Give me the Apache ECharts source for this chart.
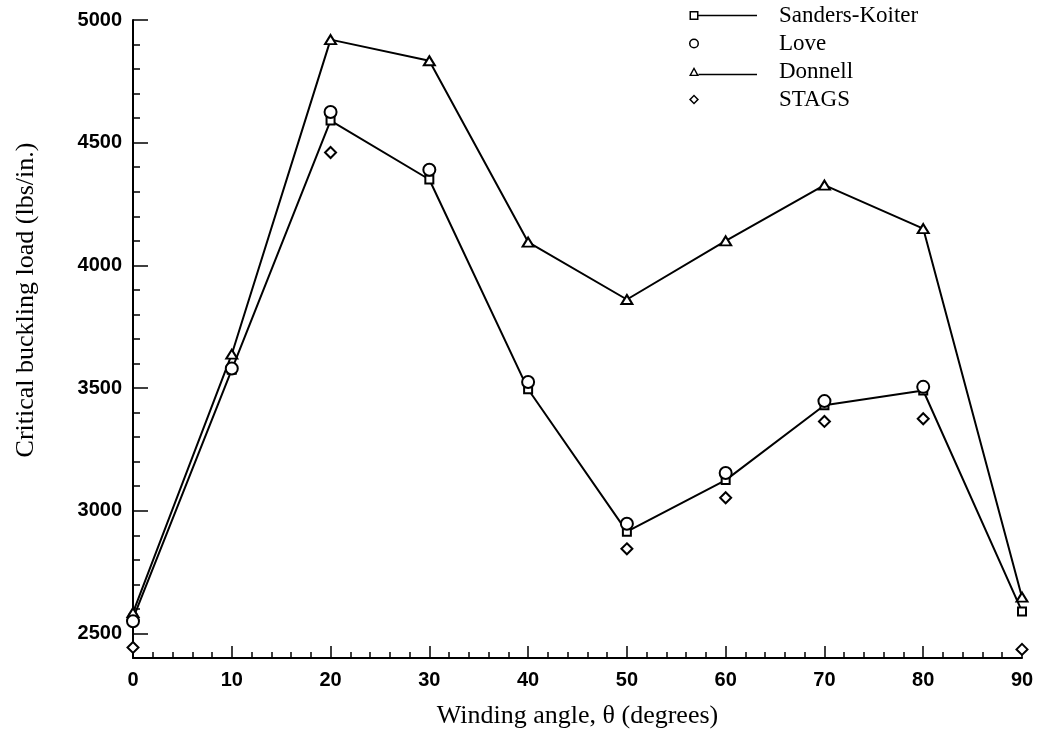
<!DOCTYPE html>
<html>
<head>
<meta charset="utf-8">
<script src="https://cdn.jsdelivr.net/npm/echarts@6/dist/echarts.min.js"></script>
<style>
  html, body { margin: 0; padding: 0; background: #fff; }
  #chart { width: 1039px; height: 748px; }
</style>
</head>
<body>
<div id="chart"></div>
<script>
// ---- data ----
const angles = [0, 10, 20, 30, 40, 50, 60, 70, 80, 90];
const sandersKoiter = [2560, 3575, 4590, 4350, 3495, 2915, 3125, 3430, 3490, 2590];
const love = [2550, 3580, 4625, 4390, 3525, 2947, 3154, 3447, 3505, null];
const donnell = [2585, 3638, 4920, 4834, 4095, 3861, 4100, 4327, 4150, 2648];
const stags = [2443, null, 4460, null, null, 2845, 3053, 3364, 3375, 2435];
const yMajorTicks = [5000, 4500, 4000, 3500, 3000, 2500];
const yMin = 2400, yMax = 5000;
const seriesNames = ['Sanders-Koiter', 'Love', 'Donnell', 'STAGS'];

function pairs(xs, ys) {
  const out = [];
  xs.forEach((x, i) => { if (ys[i] !== null) out.push([x, ys[i]]); });
  return out;
}

// legend icons (path box 85 x 14, symbol at left, optional line)
const box = 'M0 0 L0.01 0 L0 0.01 Z M85 14 L84.99 14 L85 13.99 Z ';
const squareRing = 'M0.5 2.5 L9.5 2.5 L9.5 11.5 L0.5 11.5 Z M2 4 L2 10 L8 10 L8 4 Z ';
const circleRing = 'M0 7 A5 5 0 1 1 10 7 A5 5 0 1 1 0 7 Z M1.5 7 A3.5 3.5 0 1 0 8.5 7 A3.5 3.5 0 1 0 1.5 7 Z ';
const triRing = 'M0 11.5 L5 2.5 L10 11.5 Z M2.4 10.2 L7.6 10.2 L5 5.3 Z ';
const diaRing = 'M5 2 L10 7 L5 12 L0 7 Z M5 4.1 L2.1 7 L5 9.9 L7.9 7 Z ';
const lineSq = 'M9.5 6.3 L68 6.3 L68 7.7 L9.5 7.7 Z ';
const lineTri = 'M9.5 9.3 L68 9.3 L68 10.7 L9.5 10.7 Z ';
const legendIcons = [
  'path://' + box + squareRing + lineSq,
  'path://' + box + circleRing,
  'path://' + box + triRing + lineTri,
  'path://' + box + diaRing
];

const chart = echarts.init(document.getElementById('chart'), null, { renderer: 'canvas' });
const sans = 'Liberation Sans';
const serif = 'Liberation Serif';

chart.setOption({
  animation: false,
  backgroundColor: '#fff',
  grid: { left: 133, right: 17, top: 20, bottom: 90, containLabel: false },
  legend: {
    orient: 'vertical',
    left: 689,
    top: 4,
    padding: 0,
    itemWidth: 85,
    itemHeight: 14,
    itemGap: 5,
    textStyle: { fontFamily: serif, fontSize: 23, color: '#000' },
    data: seriesNames.map((n, i) => ({
      name: n,
      icon: legendIcons[i],
      itemStyle: { color: '#000', borderWidth: 0, borderColor: '#000', opacity: 1 }
    }))
  },
  xAxis: {
    type: 'value',
    min: 0, max: 90, interval: 10,
    name: 'Winding angle, \u03b8 (degrees)',
    nameLocation: 'middle',
    nameGap: 45,
    nameTextStyle: { fontFamily: serif, fontSize: 26, color: '#000' },
    axisLine: { show: true, onZero: false, lineStyle: { color: '#000', width: 2 } },
    axisTick: { show: true, inside: true, length: 12, lineStyle: { color: '#000', width: 1.5 } },
    minorTick: { show: true, splitNumber: 5, length: 6, lineStyle: { color: '#000', width: 1.5 } },
    axisLabel: { fontFamily: sans, fontSize: 20, fontWeight: 'bold', color: '#000', margin: 12 },
    splitLine: { show: false }
  },
  yAxis: [
    {
      type: 'value',
      min: yMin, max: yMax, interval: 100,
      position: 'left',
      name: 'Critical buckling load (lbs/in.)',
      nameLocation: 'middle',
      nameGap: 94,
      nameTextStyle: { fontFamily: serif, fontSize: 26, color: '#000', padding: [0, 0, 0, 78] },
      axisLine: { show: true, onZero: false, lineStyle: { color: '#000', width: 2 } },
      axisTick: { show: true, inside: true, length: 7, lineStyle: { color: '#000', width: 1.5 } },
      axisLabel: { show: false },
      splitLine: { show: false }
    },
    {
      // major ticks + labels, counted down from the top value
      type: 'value',
      inverse: true,
      min: 0, max: yMax - yMin, interval: 500,
      position: 'left',
      axisLine: { show: false },
      axisTick: { show: true, inside: true, length: 15, lineStyle: { color: '#000', width: 1.5 } },
      axisLabel: {
        fontFamily: sans, fontSize: 20, fontWeight: 'bold', color: '#000', margin: 11,
        formatter: v => (yMajorTicks.indexOf(yMax - v) >= 0 ? String(yMax - v) : '')
      },
      splitLine: { show: false }
    }
  ],
  series: [
    {
      name: 'Sanders-Koiter', type: 'line', yAxisIndex: 0,
      data: pairs(angles, sandersKoiter),
      symbol: 'emptyRect', symbolSize: 8, showAllSymbol: true,
      itemStyle: { color: '#000', borderWidth: 1.5, opacity: 1 },
      lineStyle: { color: '#000', width: 2 },
      z: 3
    },
    {
      name: 'Donnell', type: 'line', yAxisIndex: 0,
      data: pairs(angles, donnell),
      symbol: 'emptyTriangle', symbolSize: [11, 9], showAllSymbol: true,
      itemStyle: { color: '#000', borderWidth: 1.5, opacity: 1 },
      lineStyle: { color: '#000', width: 2 },
      z: 3
    },
    {
      name: 'STAGS', type: 'scatter', yAxisIndex: 0,
      data: pairs(angles, stags),
      symbol: 'emptyDiamond', symbolSize: 11,
      itemStyle: { color: '#000', borderWidth: 1.5, opacity: 1 },
      z: 4
    },
    {
      name: 'Love', type: 'scatter', yAxisIndex: 0,
      data: pairs(angles, love),
      symbol: 'emptyCircle', symbolSize: 12,
      itemStyle: { color: '#000', borderWidth: 1.5, opacity: 1 },
      z: 5
    }
  ]
});
</script>
</body>
</html>
